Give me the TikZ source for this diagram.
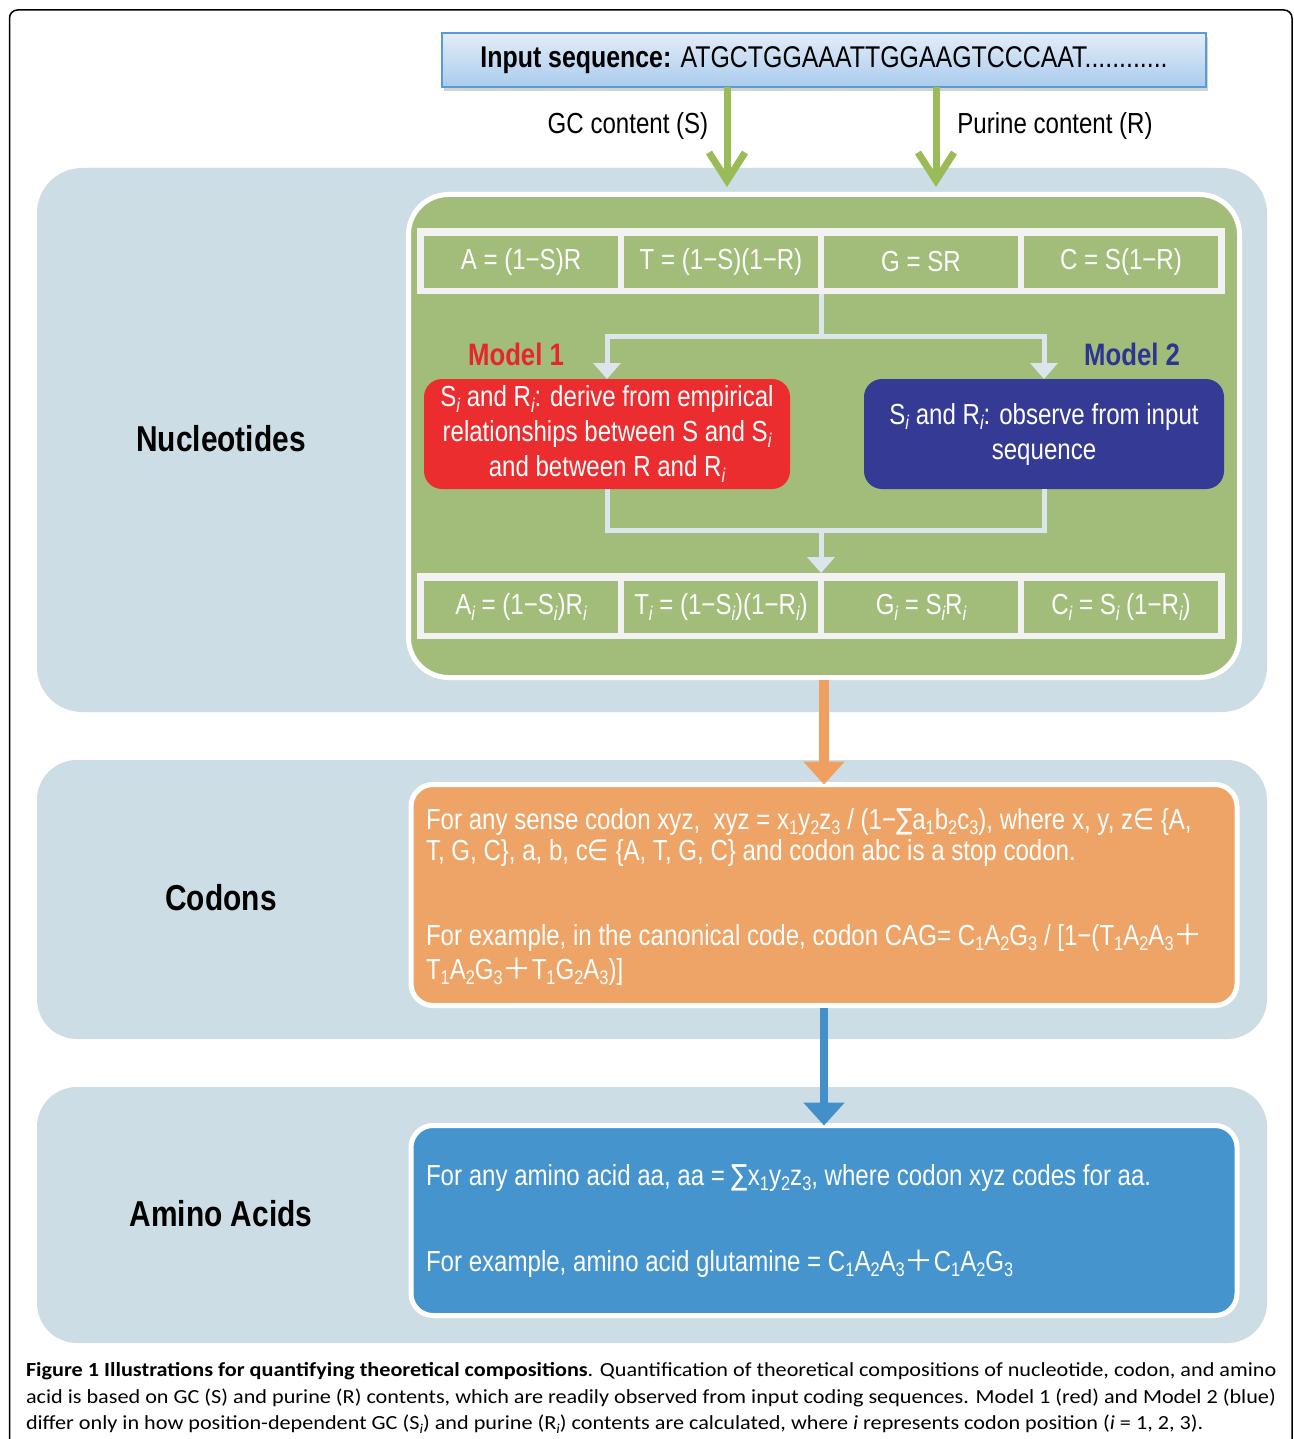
\documentclass[tikz,border=0pt]{standalone}
\usepackage{fontspec}
\setmainfont{Liberation Sans}[FakeStretch=0.83]
\newfontfamily\symf{DejaVu Sans}[FakeStretch=0.83]
\newfontfamily\cjkf{Noto Sans CJK SC}
\newfontfamily\capf{Carlito}[FakeStretch=1.11]
\usetikzlibrary{arrows.meta,shadows,calc}
\definecolor{panel}{HTML}{CDDDE5}
\definecolor{grn}{HTML}{A2BD7A}
\definecolor{garr}{HTML}{9BBB59}
\definecolor{connc}{HTML}{DCE5EB}
\definecolor{cellframe}{HTML}{F2F2F2}
\definecolor{redb}{HTML}{EC2D2F}
\definecolor{navy}{HTML}{353B94}
\definecolor{mored}{HTML}{E5262B}
\definecolor{moblue}{HTML}{2E3492}
\definecolor{orng}{HTML}{EDA466}
\definecolor{orarr}{HTML}{EFA060}
\definecolor{blu}{HTML}{4594CD}
\definecolor{bluarr}{HTML}{428FCA}
\definecolor{inpT}{HTML}{E4EDF7}
\definecolor{inpB}{HTML}{A9CBEE}
\definecolor{inpD}{HTML}{5B9BD5}
\newcommand\sbs[1]{\raisebox{-0.2em}{\scalebox{0.68}{#1}}}
\newcommand\subi{\sbs{\itshape i}}
\newcommand\fbody{\fontsize{29}{35}\selectfont}
\newcommand\finp{\fontsize{30}{35}\selectfont}
\newcommand\flabel{\fontsize{36}{40}\selectfont\bfseries}
\newcommand\fmodel{\fontsize{31}{35}\selectfont\bfseries}
\newcommand\fcap{\capf\fontsize{20}{26}\selectfont}
\newcommand\pl{{\cjkf ＋}}
\begin{document}
\begin{tikzpicture}[x=1pt,y=-1pt,
  every node/.style={inner sep=0pt, outer sep=0pt},
  panelbox/.style={fill=panel, rounded corners=45pt, draw=none},
  cellbox/.style={fill=grn, minimum width=194pt, minimum height=52pt, text=white, font=\fbody},
  frameband/.style={fill=cellframe, minimum width=808pt, minimum height=65pt},
  connline/.style={draw=connc, line width=5pt},
  connhead/.style={-{Triangle[width=27pt,length=16pt]}},
  garrow/.style={draw=garr, line width=7pt, -{Straight Barb[length=28pt,width=36pt]}},
  wtxt/.style={text=white, font=\fbody, anchor=base west},
  lbl/.style={font=\flabel},
  captxt/.style={font=\fcap, anchor=base west}]
\useasboundingbox (0,0) rectangle (1293,1439);
\fill[white] (0,0) rectangle (1293,1439);
% outer frame
\draw[line width=1.5pt, rounded corners=8pt] (9.5,1439) -- (9.5,10) -- (1292,10) -- (1292,1439);
% panels
\node[panelbox, minimum width=1230pt, minimum height=544pt] (pnuc) at (652,440) {};
\node[panelbox, minimum width=1230pt, minimum height=279pt, rounded corners=40pt] (pcod) at (652,899.5) {};
\node[panelbox, minimum width=1230pt, minimum height=256pt, rounded corners=40pt] (pami) at (652,1215) {};
% input box
\node[fill=inpT, top color=inpT, bottom color=inpB, draw=inpD, line width=2.5pt,
  minimum width=764pt, minimum height=54pt, font=\finp,
  drop shadow={shadow xshift=2pt, shadow yshift=-4pt, opacity=0.35}] (inp) at (824,60)
  {{\bfseries Input sequence:} ATGCTGGAAATTGGAAGTCCCAAT............};
% green box
\node[fill=grn, draw=white, line width=5pt, rounded corners=40pt, minimum width=831pt, minimum height=483pt] (gbox) at (824,436) {};
% green arrows
\coordinate (gS) at (727,187);
\coordinate (gR) at (936,187);
\draw[garrow] (inp.south -| gS) -- (gS);
\draw[garrow] (inp.south -| gR) -- (gR);
\node[font=\fbody] (lgc) at (628,126) {GC content (S)};
\node[font=\fbody] (lpr) at (1055,126) {Purine content (R)};
% top row
\node[frameband] (topf) at (821,261) {};
\node[cellbox] (ca) at (521,262) {A = (1−S)R};
\node[cellbox] (ct) at (721,262) {T = (1−S)(1−R)};
\node[cellbox] (cg) at (921,262) {G = SR};
\node[cellbox] (cc) at (1121,262) {C = S(1−R)};
% model boxes
\node[fill=redb, rounded corners=18pt, minimum width=366pt, minimum height=110pt, text=white, align=center, font=\fbody] (m1) at (607,434)
  {S\subi{} and R\subi: derive from empirical\\relationships between S and S\subi\\and between R and R\subi};
\node[fill=navy, rounded corners=18pt, minimum width=360pt, minimum height=110pt, text=white, align=center, font=\fbody] (m2) at (1044,434)
  {S\subi{} and R\subi: observe from input\\sequence};
\node[text=mored, font=\fmodel] (l1) at (516,354) {Model 1};
\node[text=moblue, font=\fmodel] (l2) at (1132,354) {Model 2};
% bottom row
\node[frameband, minimum height=66pt] (botf) at (821,606) {};
\node[cellbox] (cai) at (521,607) {A\subi{} = (1−S\subi)R\subi};
\node[cellbox] (cti) at (721,607) {T\subi{} = (1−S\subi)(1−R\subi)};
\node[cellbox] (cgi) at (921,607) {G\subi{} = S\subi R\subi};
\node[cellbox] (cci) at (1121,607) {C\subi{} = S\subi{} (1−R\subi)};
% connectors
\coordinate (split) at (821,336);
\coordinate (merge) at (821,530);
\draw[connline] (topf.south) -- (split);
\draw[connline, connhead] (split) -| (m1.north);
\draw[connline, connhead] (split) -| (m2.north);
\draw[connline] (m1.south) |- (merge);
\draw[connline] (m2.south) |- (merge);
\draw[connline, connhead] (merge) -- (botf.north);
% codon box
\node[fill=orng, draw=white, line width=5pt, rounded corners=22pt, minimum width=826pt, minimum height=221pt] (obox) at (824,895) {};
% amino box
\node[fill=blu, draw=white, line width=5pt, rounded corners=22pt, minimum width=826pt, minimum height=190pt] (bbox) at (824,1220.5) {};
% big arrows
\draw[draw=orarr, line width=10pt, -{Triangle[width=40pt,length=23pt]}] ([yshift=-2.5pt]gbox.south) -- (obox.north);
\draw[draw=bluarr, line width=8pt, -{Triangle[width=40pt,length=23pt]}] ([yshift=-2.5pt]obox.south) -- (bbox.north);
% codon texts
\node[wtxt] (o1) at (426,829) {For any sense codon xyz,\ \ xyz = x\sbs{1}y\sbs{2}z\sbs{3} / (1−{\symf ∑}a\sbs{1}b\sbs{2}c\sbs{3}), where x, y, z{\symf ∈} \{A,};
\node[wtxt] (o2) at (426,860) {T, G, C\}, a, b, c{\symf ∈} \{A, T, G, C\} and codon abc is a stop codon.};
\node[wtxt] (o3) at (426,945) {For example, in the canonical code, codon CAG= C\sbs{1}A\sbs{2}G\sbs{3} / [1−(T\sbs{1}A\sbs{2}A\sbs{3}\pl};
\node[wtxt] (o4) at (426,979) {T\sbs{1}A\sbs{2}G\sbs{3}\pl T\sbs{1}G\sbs{2}A\sbs{3})]};
% amino texts
\node[wtxt] (a1) at (426,1185) {For any amino acid aa, aa = {\symf ∑}x\sbs{1}y\sbs{2}z\sbs{3}, where codon xyz codes for aa.};
\node[wtxt] (a2) at (426,1271) {For example, amino acid glutamine = C\sbs{1}A\sbs{2}A\sbs{3}\pl C\sbs{1}A\sbs{2}G\sbs{3}};
% side labels
\node[lbl] (lnuc) at (221,439) {Nucleotides};
\node[lbl] (lcod) at (221,898) {Codons};
\node[lbl] (lami) at (221,1214) {Amino Acids};
% caption
\node[captxt] (cap1) at (26,1376) {{\bfseries Figure 1 Illustrations for quantifying theoretical compositions}. Quantification of theoretical compositions of nucleotide, codon, and amino};
\node[captxt] (cap2) at (26,1403) {acid is based on GC (S) and purine (R) contents, which are readily observed from input coding sequences. Model 1 (red) and Model 2 (blue)};
\node[captxt] (cap3) at (26,1429) {differ only in how position-dependent GC (S\sbs{\itshape i}) and purine (R\sbs{\itshape i}) contents are calculated, where {\itshape i} represents codon position ({\itshape i} = 1, 2, 3).};
\end{tikzpicture}
\end{document}
